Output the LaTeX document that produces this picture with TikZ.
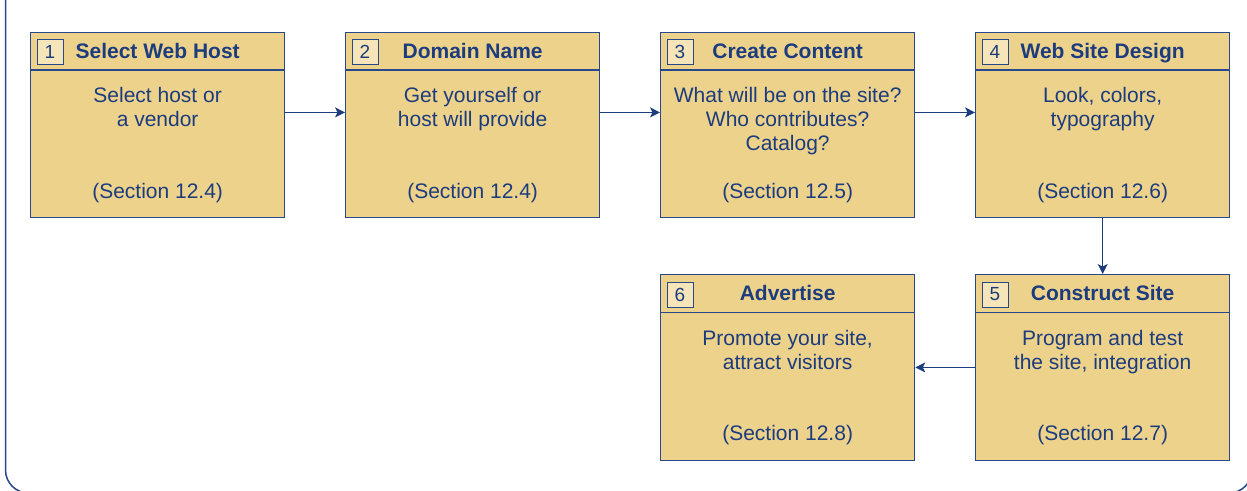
\documentclass[tikz,border=0pt]{standalone}
\usepackage{fontspec}
\setmainfont{Liberation Sans}
\usetikzlibrary{arrows.meta}
\definecolor{ink}{RGB}{28,60,126}
\definecolor{rulecol}{RGB}{40,72,140}
\definecolor{panel}{RGB}{237,210,139}
\definecolor{chip}{RGB}{246,229,184}

% fixed first-line height, so the top anchor sits a set distance above the first baseline
\newcommand\firstline{\rule{0pt}{17pt}}

% one numbered step: name, top-left corner, number, title, description, section
\newcommand\flowstep[6]{%
  \node[stepbox] (#1) at #2 {};
  \draw[divider] ([yshift=-38.5pt]#1.north west) -- ([yshift=-38.5pt]#1.north east);
  \node[chipbox] (#1num) at ([xshift=6.5pt,yshift=-7.5pt]#1.north west) {#3};
  \node[head] (#1head) at ([yshift=-26.8pt]#1.north) {#4};
  \node[body, anchor=north] (#1body) at ([yshift=-54pt]#1.north) {\firstline#5};
  \node[body] (#1sec) at ([yshift=-166.7pt]#1.north) {#6};
}

\begin{document}
\begin{tikzpicture}[x=1pt,y=-1pt,
  stepbox/.style={draw=rulecol, line width=1.3pt, fill=panel, rectangle,
    inner sep=0pt, minimum width=254pt, minimum height=185.5pt, anchor=north west},
  divider/.style={draw=rulecol, line width=1.1pt},
  chipbox/.style={draw=rulecol, line width=1pt, fill=chip, inner sep=0pt,
    minimum width=26pt, minimum height=25pt, anchor=north west, text=ink,
    font=\fontsize{19}{19}\selectfont},
  head/.style={text=ink, font=\fontsize{21}{24}\selectfont\bfseries, anchor=base, inner sep=0pt},
  body/.style={text=ink, font=\fontsize{21}{24}\selectfont, align=center, anchor=base, inner sep=0pt},
  flow/.style={draw=ink, line width=1.2pt, -{Stealth[length=10pt,width=10pt,inset=2.5pt]}},
  frame/.style={draw=rulecol, line width=1.5pt, rounded corners=23pt}
]
\useasboundingbox (0,0) rectangle (1247,490);
\clip (0,0) rectangle (1247,490);

% surrounding panel, open at the top
\coordinate (ftl) at (5.5,-40);
\coordinate (fbl) at (5.5,493);
\coordinate (fbr) at (1252,493);
\coordinate (ftr) at (1252,-40);
\draw[frame] (ftl) -- (fbl) -- (fbr) -- (ftr);

\flowstep{s1}{(30,31.5)}{1}{Select Web Host}{Select host or\\a vendor}{(Section 12.4)}
\flowstep{s2}{(345,31.5)}{2}{Domain Name}{Get yourself or\\host will provide}{(Section 12.4)}
\flowstep{s3}{(660,31.5)}{3}{Create Content}{What will be on the site?\\Who contributes?\\Catalog?}{(Section 12.5)}
\flowstep{s4}{(975,31.5)}{4}{Web Site Design}{Look, colors,\\typography}{(Section 12.6)}
\flowstep{s5}{(975,274)}{5}{Construct Site}{Program and test\\the site, integration}{(Section 12.7)}
\flowstep{s6}{(660,274)}{6}{Advertise}{Promote your site,\\attract visitors}{(Section 12.8)}

% connectors between the steps
\draw[flow] ([yshift=12.5pt]s1.east) -- ([yshift=12.5pt]s2.west);
\draw[flow] ([yshift=12.5pt]s2.east) -- ([yshift=12.5pt]s3.west);
\draw[flow] ([yshift=12.5pt]s3.east) -- ([yshift=12.5pt]s4.west);
\draw[flow] (s4.south) -- (s5.north);
\draw[flow] (s5.west) -- (s6.east);
\end{tikzpicture}
\end{document}
